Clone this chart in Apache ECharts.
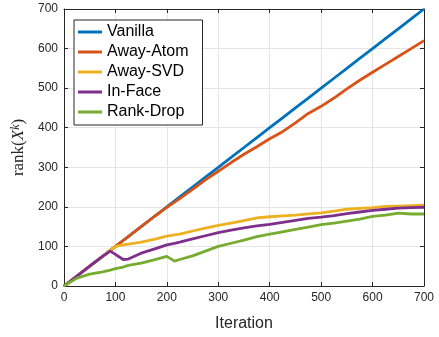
<!DOCTYPE html>
<html>
<head>
<meta charset="utf-8">
<script src="https://cdn.jsdelivr.net/npm/echarts@6/dist/echarts.min.js"></script>
<style>
  html, body { margin: 0; padding: 0; background: #fff; }
  #chart { width: 439px; height: 337px; }
</style>
</head>
<body>
<div id="chart"></div>
<script>
// iteration sample points (x values)
const iterations = [0, 25, 50, 75, 90, 100, 115, 125, 150, 175, 200, 215, 225, 250, 275, 300,
  325, 350, 375, 400, 425, 450, 475, 500, 525, 550, 575, 600, 625, 650, 675, 700];

const vanilla = [0, 25, 50, 75, 90, 100, 115, 125, 150, 175, 200, 215, 225, 250, 275, 300,
  325, 350, 375, 400, 425, 450, 475, 500, 525, 550, 575, 600, 625, 650, 675, 700];
const awayAtom = [0, 25, 50, 75, 90, 100, 115, 125, 150, 175, 199, 212, 221, 244, 268, 290,
  312, 333, 352, 372, 390, 412, 436, 454, 475, 498, 520, 540, 560, 580, 600, 620];
const awaySVD = [0, 25, 50, 75, 90, 100, 104, 106, 111, 118, 126, 129, 131, 139, 146, 153,
  159, 165, 172, 175, 177, 179, 182, 185, 189, 194, 196, 198, 201, 202, 203, 204];
const inFace = [0, 25, 50, 75, 88, 80, 67, 68, 83, 93, 104, 108, 111, 119, 127, 135,
  141, 147, 152, 156, 161, 166, 171, 174, 178, 183, 187, 191, 194, 197, 198, 199];
const rankDrop = [0, 20, 30, 36, 40, 44, 48, 52, 58, 66, 75, 63, 67, 76, 88, 100,
  108, 116, 125, 131, 137, 143, 149, 155, 159, 164, 169, 176, 179, 184, 182, 182];

const seriesNames = ['Vanilla', 'Away-Atom', 'Away-SVD', 'In-Face', 'Rank-Drop'];
const seriesValues = [vanilla, awayAtom, awaySVD, inFace, rankDrop];
const colors = ['#0072BD', '#D95319', '#EDB120', '#7E2F8E', '#77AC30'];

const axisColor = '#262626';
const sans = 'Liberation Sans, Arial, sans-serif';

const chart = echarts.init(document.getElementById('chart'));

// secondary axes only draw the mirrored inward ticks on top / right
const tickAxis = {
  min: 0, max: 700, interval: 100,
  axisLine: { show: true, onZero: false, lineStyle: { color: axisColor, width: 1 } },
  axisTick: { show: true, inside: true, length: 4, lineStyle: { color: axisColor } },
  axisLabel: { show: false },
  splitLine: { show: false }
};

const option = {
  animation: false,
  color: colors,
  grid: { left: 64, right: 15, top: 9, bottom: 45, containLabel: false },
  legend: {
    data: seriesNames,
    orient: 'vertical',
    left: 74,
    top: 20,
    padding: [4, 14, 5, 4],
    itemGap: 4,
    itemWidth: 24,
    itemHeight: 3,
    icon: 'rect',
    backgroundColor: '#fff',
    borderColor: axisColor,
    borderWidth: 1,
    borderRadius: 0,
    textStyle: { fontFamily: sans, fontSize: 16, color: '#000', lineHeight: 16 }
  },
  xAxis: [
    {
      type: 'value',
      min: 0, max: 700, interval: 100,
      name: 'Iteration',
      nameLocation: 'middle',
      nameGap: 30,
      nameTextStyle: { fontFamily: sans, fontSize: 16, color: axisColor },
      axisLine: { show: true, onZero: false, lineStyle: { color: axisColor, width: 1 } },
      axisTick: { show: true, inside: true, length: 4, lineStyle: { color: axisColor } },
      axisLabel: { fontFamily: sans, fontSize: 12, color: axisColor, margin: 6 },
      splitLine: { show: true, lineStyle: { color: '#e5e5e5', width: 1 } }
    },
    Object.assign({ type: 'value', position: 'top' }, tickAxis)
  ],
  yAxis: [
    {
      type: 'value',
      min: 0, max: 700, interval: 100,
      name: '{a|rank(}{b|X}{c|k}{a|)}',
      nameLocation: 'middle',
      nameGap: 31,
      nameTextStyle: {
        color: axisColor,
        rich: {
          a: { fontFamily: 'Liberation Serif, serif', fontSize: 17, color: axisColor },
          b: { fontFamily: 'Liberation Serif, serif', fontSize: 17, fontStyle: 'italic', color: axisColor },
          c: { fontFamily: 'Liberation Serif, serif', fontSize: 12, fontStyle: 'italic', color: axisColor,
               verticalAlign: 'top', lineHeight: 10 }
        }
      },
      axisLine: { show: true, onZero: false, lineStyle: { color: axisColor, width: 1 } },
      axisTick: { show: true, inside: true, length: 4, lineStyle: { color: axisColor } },
      axisLabel: { fontFamily: sans, fontSize: 12, color: axisColor, margin: 6 },
      splitLine: { show: true, lineStyle: { color: '#e5e5e5', width: 1 } }
    },
    Object.assign({ type: 'value', position: 'right' }, tickAxis)
  ],
  series: seriesNames.map((name, i) => ({
    name: name,
    type: 'line',
    showSymbol: false,
    symbol: 'none',
    lineStyle: { width: 2.8, color: colors[i] },
    itemStyle: { color: colors[i] },
    data: iterations.map((it, j) => [it, seriesValues[i][j]])
  }))
};

chart.setOption(option);
</script>
</body>
</html>
